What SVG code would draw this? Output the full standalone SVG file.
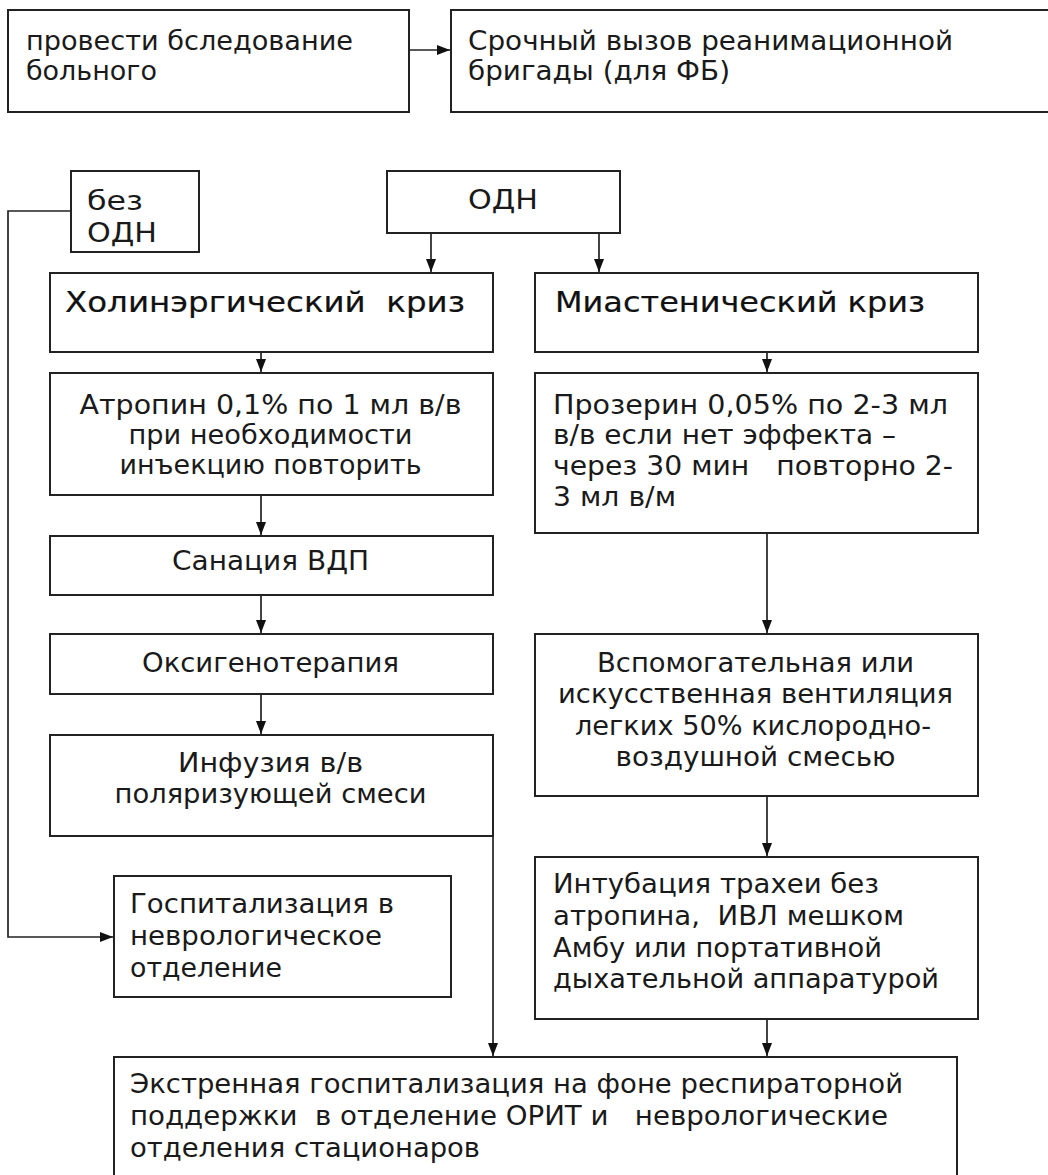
<svg xmlns="http://www.w3.org/2000/svg" width="1048" height="1175" viewBox="0 0 1048 1175">
<style>
.box{fill:#fff;stroke:#222;stroke-width:2}
.t{font-family:"DejaVu Sans","Liberation Sans",sans-serif;font-size:26px;fill:#1a1a1a;white-space:pre}
.m{text-anchor:middle}
.h{font-family:"DejaVu Sans","Liberation Sans",sans-serif;font-size:27.5px;fill:#111;white-space:pre;stroke:#111;stroke-width:0.2}
.ln{fill:none;stroke:#222;stroke-width:1.7}
</style>
<defs>
<marker id="ah" markerUnits="userSpaceOnUse" markerWidth="13" markerHeight="14" viewBox="0 0 13 14" refX="13" refY="7" orient="auto">
<path d="M0,2 L13,7 L0,12 Z" fill="#111"/>
</marker>
</defs>
<rect width="1048" height="1175" fill="#fff"/>

<g id="connectors">
<line class="ln" x1="409" y1="50" x2="450" y2="50" marker-end="url(#ah)"/>
<line class="ln" x1="431" y1="233" x2="431" y2="272" marker-end="url(#ah)"/>
<line class="ln" x1="599" y1="233" x2="599" y2="272" marker-end="url(#ah)"/>
<line class="ln" x1="261" y1="352" x2="261" y2="372" marker-end="url(#ah)"/>
<line class="ln" x1="767" y1="352" x2="767" y2="372" marker-end="url(#ah)"/>
<line class="ln" x1="261" y1="495" x2="261" y2="535" marker-end="url(#ah)"/>
<line class="ln" x1="261" y1="595" x2="261" y2="633" marker-end="url(#ah)"/>
<line class="ln" x1="261" y1="694" x2="261" y2="734" marker-end="url(#ah)"/>
<line class="ln" x1="767" y1="533" x2="767" y2="633" marker-end="url(#ah)"/>
<line class="ln" x1="767" y1="796" x2="767" y2="856" marker-end="url(#ah)"/>
<line class="ln" x1="767" y1="1019" x2="767" y2="1056" marker-end="url(#ah)"/>
<line class="ln" x1="493" y1="836" x2="493" y2="1056" marker-end="url(#ah)"/>
<path class="ln" d="M71,211 H8 V937 H113" marker-end="url(#ah)"/>
</g>

<g id="n1">
<rect class="box" x="8" y="10" width="401" height="102"/>
<text class="t" x="26" y="50" textLength="327" lengthAdjust="spacingAndGlyphs">провести бследование</text>
<text class="t" x="26" y="80" textLength="131" lengthAdjust="spacingAndGlyphs">больного</text>
</g>
<g id="n2">
<rect class="box" x="451" y="10" width="620" height="102"/>
<text class="t" x="468" y="50" textLength="485" lengthAdjust="spacingAndGlyphs">Срочный вызов реанимационной</text>
<text class="t" x="468" y="80" textLength="262" lengthAdjust="spacingAndGlyphs">бригады (для ФБ)</text>
</g>
<g id="n3">
<rect class="box" x="71" y="171" width="128" height="81"/>
<text class="t" x="87" y="210" textLength="56" lengthAdjust="spacingAndGlyphs">без</text>
<text class="t" x="87" y="242" textLength="70" lengthAdjust="spacingAndGlyphs">ОДН</text>
</g>
<g id="n4">
<rect class="box" x="387" y="171" width="233" height="62"/>
<text class="t m" x="503" y="209" textLength="70" lengthAdjust="spacingAndGlyphs">ОДН</text>
</g>
<g id="n5">
<rect class="box" x="50" y="273" width="443" height="79"/>
<text class="h" x="65" y="312" textLength="400" lengthAdjust="spacingAndGlyphs">Холинэргический  криз</text>
</g>
<g id="n6">
<rect class="box" x="535" y="273" width="443" height="79"/>
<text class="h" x="555" y="312" textLength="370" lengthAdjust="spacingAndGlyphs">Миастенический криз</text>
</g>
<g id="n7">
<rect class="box" x="50" y="373" width="443" height="122"/>
<text class="t m" x="270.5" y="414" textLength="382" lengthAdjust="spacingAndGlyphs">Атропин 0,1% по 1 мл в/в</text>
<text class="t m" x="270.5" y="444" textLength="284" lengthAdjust="spacingAndGlyphs">при необходимости</text>
<text class="t m" x="270.5" y="474" textLength="302" lengthAdjust="spacingAndGlyphs">инъекцию повторить</text>
</g>
<g id="n8">
<rect class="box" x="535" y="373" width="443" height="160"/>
<text class="t" x="553" y="414" textLength="395" lengthAdjust="spacingAndGlyphs">Прозерин 0,05% по 2-3 мл</text>
<text class="t" x="553" y="444" textLength="343" lengthAdjust="spacingAndGlyphs">в/в если нет эффекта –</text>
<text class="t" x="553" y="475" textLength="400" lengthAdjust="spacingAndGlyphs">через 30 мин   повторно 2-</text>
<text class="t" x="553" y="506" textLength="123" lengthAdjust="spacingAndGlyphs">3 мл в/м</text>
</g>
<g id="n9">
<rect class="box" x="50" y="536" width="443" height="59"/>
<text class="t m" x="270.5" y="570" textLength="197" lengthAdjust="spacingAndGlyphs">Санация ВДП</text>
</g>
<g id="n10">
<rect class="box" x="50" y="634" width="443" height="60"/>
<text class="t m" x="270.5" y="672" textLength="257" lengthAdjust="spacingAndGlyphs">Оксигенотерапия</text>
</g>
<g id="n11">
<rect class="box" x="50" y="735" width="443" height="101"/>
<text class="t m" x="270.5" y="772" textLength="185" lengthAdjust="spacingAndGlyphs">Инфузия в/в</text>
<text class="t m" x="270.5" y="803" textLength="312" lengthAdjust="spacingAndGlyphs">поляризующей смеси</text>
</g>
<g id="n12">
<rect class="box" x="535" y="634" width="443" height="162"/>
<text class="t m" x="755.5" y="672" textLength="317" lengthAdjust="spacingAndGlyphs">Вспомогательная или</text>
<text class="t m" x="755.5" y="703" textLength="395" lengthAdjust="spacingAndGlyphs">искусственная вентиляция</text>
<text class="t m" x="753" y="735" textLength="356" lengthAdjust="spacingAndGlyphs">легких 50% кислородно-</text>
<text class="t m" x="755.5" y="766" textLength="280" lengthAdjust="spacingAndGlyphs">воздушной смесью</text>
</g>
<g id="n13">
<rect class="box" x="114" y="876" width="337" height="121"/>
<text class="t" x="130" y="913" textLength="264" lengthAdjust="spacingAndGlyphs">Госпитализация в</text>
<text class="t" x="130" y="945" textLength="252" lengthAdjust="spacingAndGlyphs">неврологическое</text>
<text class="t" x="130" y="977" textLength="152" lengthAdjust="spacingAndGlyphs">отделение</text>
</g>
<g id="n14">
<rect class="box" x="535" y="857" width="443" height="162"/>
<text class="t" x="553" y="893" textLength="326" lengthAdjust="spacingAndGlyphs">Интубация трахеи без</text>
<text class="t" x="553" y="925" textLength="351" lengthAdjust="spacingAndGlyphs">атропина,  ИВЛ мешком</text>
<text class="t" x="553" y="957" textLength="329" lengthAdjust="spacingAndGlyphs">Амбу или портативной</text>
<text class="t" x="553" y="988" textLength="386" lengthAdjust="spacingAndGlyphs">дыхательной аппаратурой</text>
</g>
<g id="n15">
<rect class="box" x="114" y="1057" width="843" height="140"/>
<text class="t" x="130" y="1093" textLength="773" lengthAdjust="spacingAndGlyphs">Экстренная госпитализация на фоне респираторной</text>
<text class="t" x="130" y="1125" textLength="758" lengthAdjust="spacingAndGlyphs">поддержки  в отделение ОРИТ и   неврологические</text>
<text class="t" x="130" y="1157" textLength="350" lengthAdjust="spacingAndGlyphs">отделения стационаров</text>
</g>
</svg>
